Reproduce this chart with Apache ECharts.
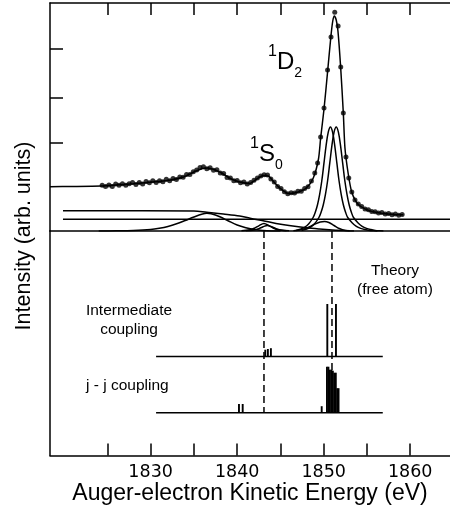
<!DOCTYPE html>
<html><head><meta charset="utf-8">
<script src="https://cdn.jsdelivr.net/npm/echarts@6/dist/echarts.min.js"></script>
<style>html,body{margin:0;padding:0;background:#fff}#c{width:450px;height:524px}</style>
</head><body><div id="c"></div>
<script>
// ---------- data ----------
const energyRange = [1818.37, 1864.6];
const xTicks = [1825, 1830, 1835, 1840, 1845, 1850, 1855, 1860];
const xLabels = [1830, 1840, 1850, 1860];
const yTicks = [88.7, 133.3, 182.7];

// measured spectrum (dots)
const measuredEnergy = [1824.40,1824.79,1825.18,1825.57,1825.96,1826.35,1826.74,1827.13,1827.52,1827.91,
 1828.30,1828.69,1829.08,1829.47,1829.86,1830.25,1830.64,1831.03,1831.42,1831.81,
 1832.20,1832.59,1832.98,1833.37,1833.76,1834.15,1834.54,1834.93,1835.32,1835.71,
 1836.10,1836.49,1836.88,1837.27,1837.66,1838.05,1838.44,1838.83,1839.22,1839.61,
 1840.00,1840.39,1840.78,1841.17,1841.56,1841.95,1842.34,1842.73,1843.12,1843.51,
 1843.90,1844.29,1844.68,1845.07,1845.46,1845.85,1846.24,1846.63,1847.02,1847.41,
 1847.80,1848.19,1848.58,1848.97,
 1849.30,1849.65,1850.04,1850.45,1850.85,1851.28,1851.67,1851.97,1852.27,1852.58,1852.90,1853.25,1853.62,
 1854.00,1854.39,1854.78,1855.17,1855.56,1855.95,1856.34,1856.73,1857.12,1857.51,1857.90,1858.29,1858.68,1859.07];
const measuredIntensity = [45.8,44.4,45.9,44.5,47.1,45.7,47.3,45.7,47.2,48.5,
 46.6,48.4,47.0,49.4,48.3,50.2,48.5,50.2,49.3,51.7,
 50.3,52.4,51.4,54.1,53.7,56.6,56.4,59.3,61.1,63.5,
 64.2,62.3,63.3,60.8,61.2,57.9,57.5,53.6,53.0,50.2,
 50.5,48.3,49.0,46.9,48.6,50.8,53.1,54.9,56.2,55.9,
 52.1,49.1,44.4,42.4,39.3,37.2,38.2,37.9,39.7,39.8,
 42.6,44.2,50.0,58.0,
 68,94,123,161,194,218.7,205,164,118,74,53,39,31,
 27,24.5,22.0,21.2,19.4,19.3,17.9,18.4,17.0,17.6,16.2,16.9,15.8,16.6];

// total fit curve
const fitCurve = [[1818.37,44.3],[1821,44.5],[1824.3,45],[1826,46],[1828,47.2],[1830,48.8],[1832,50.5],
 [1833.8,54],[1835,59],[1836,62.5],[1836.6,63],[1837.6,60.5],[1838.4,57],[1839.2,52.5],[1840.3,49],
 [1841.4,47.5],[1842.2,51.5],[1843.0,55.5],[1843.6,55],[1844.2,49.5],[1845.0,42.5],[1845.9,37.5],
 [1846.9,38.5],[1848.0,43],[1848.8,53],[1849.4,72],[1849.65,93],[1850.04,122],[1850.46,160],
 [1850.84,195],[1851.05,210],[1851.23,215],[1851.45,211],[1851.65,200],[1851.96,164],[1852.27,118],
 [1852.46,83],[1852.84,57],[1853.24,39],[1853.73,29.5],[1854.2,25],[1855.35,20],[1856.89,17.5],
 [1858.04,16.5],[1859.2,16.2]];

// fit components
const stepBackground = [[1819.87,20.3],[1835.0,20.0],[1836.5,18.7],[1838.4,17],[1840.3,15],[1841.5,12.7],
 [1843,10.2],[1844.5,7.6],[1846,5.5],[1848,3.2],[1849.5,2],[1851,1.1],[1853,0.3]];
const constBackground = [[1819.87,11.8],[1864.6,11.8]];
const lossHump = [[1824,0],[1826,0.2],[1828,0.6],[1830,1.6],[1831,2.8],[1832,4.6],[1833,7.2],[1834,10.5],
 [1835,14],[1836,17],[1836.5,17.7],[1837,17.2],[1838,14.2],[1839,10],[1840,6],[1841,3.3],[1842,1.4],
 [1843,0.5],[1844,0.1],[1845,0]];
const s0PeakA = [[1840.5,0.3],[1841.5,1.2],[1842,2.8],[1842.5,5.2],[1843.1,7.5],[1843.7,5.2],[1844.2,2.8],
 [1844.7,1.2],[1845.7,0.3]];
const s0PeakB = [[1841,0.2],[1842,1],[1842.5,2.3],[1843,4.3],[1843.5,5.5],[1844,4.3],[1844.5,2.3],
 [1845,1],[1846,0.2]];
const smallPeak = [[1846.5,0.2],[1847.5,1.5],[1848.3,4],[1849,7],[1849.6,9],[1850.1,9.5],[1850.6,8.5],
 [1851.2,5.5],[1851.8,2.5],[1852.5,0.6],[1853.5,0]];
const d2PeakA = [[1846.78,0.6],[1847.28,1.7],[1847.78,3.6],[1848.28,7.3],[1848.78,13.5],[1849.03,18.7],
 [1849.28,26],[1849.53,36.4],[1849.78,50],[1850.03,67.6],[1850.28,85.3],[1850.53,98.8],[1850.78,104],
 [1851.03,98.8],[1851.28,85.3],[1851.53,67.6],[1851.78,50],[1852.03,36.4],[1852.28,26],[1852.53,18.7],
 [1852.78,13.5],[1853.28,8.3],[1853.78,4.7],[1854.28,2.6],[1854.78,1.4],[1855.28,0.6],[1855.78,0.2],[1856.2,0]];
const d2PeakB = [[1847.45,0.6],[1847.95,1.7],[1848.45,3.6],[1848.95,7.3],[1849.45,13.5],[1849.70,18.7],
 [1849.95,26],[1850.20,36.4],[1850.45,50],[1850.70,67.6],[1850.95,85.3],[1851.20,98.8],[1851.45,104],
 [1851.70,98.8],[1851.95,85.3],[1852.20,67.6],[1852.45,50],[1852.70,36.4],[1852.95,26],[1853.20,18.7],
 [1853.45,13.5],[1853.95,8.3],[1854.45,4.7],[1854.95,2.6],[1855.45,1.4],[1855.95,0.6],[1856.45,0.2],[1856.9,0]];

// theory (free atom) line positions [energy, relative intensity]
const theoryRange = [1830.63, 1856.83];
const intermediateBase = 99;
const jjBase = 42.8;
const intermediateLines = [[1843.25,6.8],[1843.55,7.5],[1843.9,8.3],[1850.42,52.5],[1851.42,52.5]];
const jjLines = [[1840.21,8.7],[1840.64,8.7],[1849.77,6.5],[1850.38,46],[1850.55,46],[1850.72,43],
 [1850.89,43],[1851.06,42],[1851.23,40],[1851.40,40],[1851.57,24.5],[1851.72,24.5]];
const guideEnergies = [1843.1, 1850.96];

// ---------- chart ----------
const FONT = 'Liberation Sans, Arial, Helvetica, sans-serif';
const BLACK = '#000';
const LW = 1.5;
const chart = echarts.init(document.getElementById('c'), null, {renderer: 'canvas'});

function lineSeries(data, extra) {
  return Object.assign({
    type: 'line', xAxisIndex: 0, yAxisIndex: 0, data: data, smooth: 0.35,
    showSymbol: false, symbol: 'none', silent: true,
    lineStyle: {color: BLACK, width: LW}
  }, extra || {});
}
function stickSeries(lines, base) {
  return {
    type: 'custom', coordinateSystem: 'cartesian2d', xAxisIndex: 2, yAxisIndex: 1, silent: true,
    data: lines.map(d => [d[0], base, d[1]]),
    encode: {x: 0, y: 1},
    renderItem: function (params, api) {
      const e = api.value(0), b = api.value(1), h = api.value(2);
      const p0 = api.coord([e, b]), p1 = api.coord([e, b + h]);
      return {type: 'line', shape: {x1: p0[0], y1: p0[1], x2: p1[0], y2: p1[1]},
        style: {stroke: BLACK, lineWidth: 1.9}};
    }
  };
}

const axisLine = {show: true, onZero: false, lineStyle: {color: BLACK, width: LW}};
const tickStyle = {color: BLACK, width: LW};
const termRich = {
  s: {fontSize: 16, lineHeight: 16, verticalAlign: 'top', fontFamily: FONT, fill: BLACK},
  b: {fontSize: 24, lineHeight: 36, fontFamily: FONT, fill: BLACK},
  u: {fontSize: 14, lineHeight: 14, verticalAlign: 'bottom', fontFamily: FONT, fill: BLACK}
};

const series = [
  lineSeries(constBackground, {smooth: false}),
  lineSeries(stepBackground),
  lineSeries(lossHump),
  lineSeries(s0PeakA),
  lineSeries(s0PeakB),
  lineSeries(smallPeak),
  lineSeries(d2PeakA),
  lineSeries(d2PeakB),
  lineSeries(fitCurve, {smooth: 0.25}),
  {type: 'scatter', xAxisIndex: 0, yAxisIndex: 0, silent: true,
   data: measuredEnergy.map((e, i) => [e, measuredIntensity[i]]),
   symbol: 'circle', symbolSize: 5, itemStyle: {color: BLACK}},
  // theory baselines
  {type: 'line', xAxisIndex: 2, yAxisIndex: 1, silent: true, symbol: 'none',
   data: [[theoryRange[0], intermediateBase], [theoryRange[1], intermediateBase]],
   lineStyle: {color: BLACK, width: LW}},
  {type: 'line', xAxisIndex: 2, yAxisIndex: 1, silent: true, symbol: 'none',
   data: [[theoryRange[0], jjBase], [theoryRange[1], jjBase]],
   lineStyle: {color: BLACK, width: LW}},
  stickSeries(intermediateLines, intermediateBase),
  stickSeries(jjLines, jjBase)
];
guideEnergies.forEach(e => series.push({
  type: 'line', xAxisIndex: 2, yAxisIndex: 1, silent: true, symbol: 'none',
  data: [[e, 224.5], [e, jjBase]],
  lineStyle: {color: BLACK, width: LW, type: [7, 4]}
}));

const option = {
  animation: false,
  backgroundColor: '#fff',
  grid: [
    {left: 50, right: 0, top: 3, height: 228},
    {left: 50, right: 0, top: 231, bottom: 68.5}
  ],
  xAxis: [
    {gridIndex: 0, type: 'value', min: energyRange[0], max: energyRange[1], position: 'top',
     axisLine: axisLine, axisTick: {show: true, inside: true, length: 12, customValues: xTicks, lineStyle: tickStyle},
     axisLabel: {show: false}, splitLine: {show: false}},
    {gridIndex: 0, type: 'value', min: energyRange[0], max: energyRange[1], position: 'bottom',
     axisLine: axisLine, axisTick: {show: false}, axisLabel: {show: false}, splitLine: {show: false}},
    {gridIndex: 1, type: 'value', min: energyRange[0], max: energyRange[1], position: 'bottom',
     axisLine: axisLine, axisTick: {show: true, inside: true, length: 12, customValues: xTicks, lineStyle: tickStyle},
     axisLabel: {show: true, customValues: xLabels, formatter: v => String(v), color: BLACK,
       fontFamily: 'DejaVu Sans, sans-serif', fontSize: 17.5, margin: 8},
     splitLine: {show: false},
     name: 'Auger-electron Kinetic Energy (eV)', nameLocation: 'middle', nameGap: 27,
     nameTextStyle: {color: BLACK, fontFamily: FONT, fontSize: 23}}
  ],
  yAxis: [
    {gridIndex: 0, type: 'value', min: 0, max: 228,
     axisLine: axisLine, axisTick: {show: true, inside: true, length: 13, customValues: yTicks, lineStyle: tickStyle},
     axisLabel: {show: false}, splitLine: {show: false}},
    {gridIndex: 1, type: 'value', min: 0, max: 224.5,
     axisLine: axisLine, axisTick: {show: false}, axisLabel: {show: false}, splitLine: {show: false}}
  ],
  series: series,
  graphic: [
    {type: 'text', x: 24.5, y: 236, rotation: Math.PI / 2, silent: true,
     style: {text: 'Intensity (arb. units)', fill: BLACK, font: '21.5px ' + FONT, align: 'center', verticalAlign: 'middle'}},
    {type: 'text', x: 268, y: 44, silent: true,
     style: {text: '{s|1}{b|D}{u|2}', align: 'left', verticalAlign: 'top', fill: BLACK, rich: termRich}},
    {type: 'text', x: 250, y: 136, silent: true,
     style: {text: '{s|1}{b|S}{u|0}', align: 'left', verticalAlign: 'top', fill: BLACK, rich: termRich}},
    {type: 'text', x: 395, y: 261.5, silent: true,
     style: {text: 'Theory\n(free atom)', fill: BLACK, font: '15.5px ' + FONT, lineHeight: 19, align: 'center', verticalAlign: 'top'}},
    {type: 'text', x: 129, y: 301.2, silent: true,
     style: {text: 'Intermediate\ncoupling', fill: BLACK, font: '15.5px ' + FONT, lineHeight: 19, align: 'center', verticalAlign: 'top'}},
    {type: 'text', x: 86, y: 376.3, silent: true,
     style: {text: 'j - j coupling', fill: BLACK, font: '15.5px ' + FONT, lineHeight: 19, align: 'left', verticalAlign: 'top'}}
  ]
};
chart.setOption(option);
</script>
</body></html>
